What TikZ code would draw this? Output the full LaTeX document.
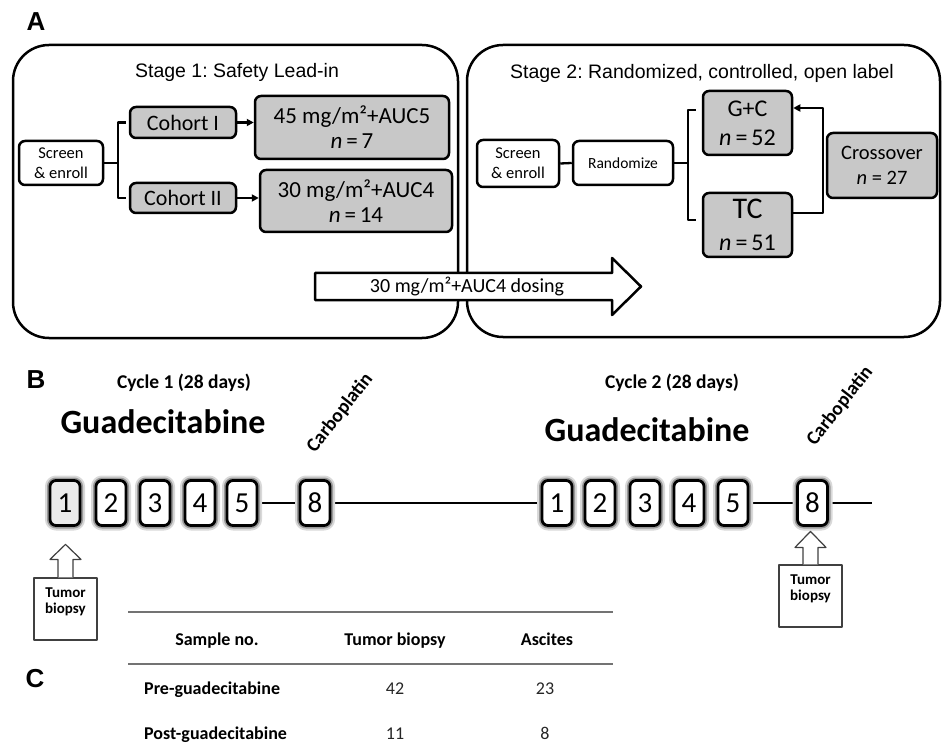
\documentclass[tikz,border=0pt]{standalone}
\usepackage{fontspec}
\setmainfont{Carlito}[Numbers=Lining]
\newfontfamily\arialfont{Liberation Sans}
\frenchspacing
\usetikzlibrary{arrows.meta}
\definecolor{boxgray}{HTML}{C8C8C8}
\newcommand{\fsz}[2]{\fontsize{#1}{#2}\selectfont}
\begin{document}
\begin{tikzpicture}[x=1pt, y=-1pt, line join=round]
    \tikzstyle{stagebox}=[draw, line width=2.5pt, rounded corners=36pt, inner sep=0pt]
    \tikzstyle{wbox}=[draw, line width=2.5pt, rounded corners=6pt, fill=white, inner sep=0pt, align=center]
    \tikzstyle{gbox}=[wbox, fill=boxgray]
    \tikzstyle{daybox}=[draw, line width=2.8pt, rounded corners=6pt, fill=white, minimum width=30pt, minimum height=45pt, inner sep=0pt, text height=18pt, text depth=0pt, font=\fsz{29pt}{30pt}, preaction={draw=black!15, line width=10pt}, preaction={draw=black!40, line width=6pt}]
    \tikzstyle{link}=[line width=2.3pt]
    \tikzstyle{tipped}=[link, -{Triangle[length=7pt, width=7pt]}]
    \tikzstyle{daylink}=[line width=2pt]
    \tikzstyle{biopsy}=[draw=black!75, line width=1.2pt, fill=white, minimum width=63pt, minimum height=62pt, inner sep=0pt, align=center, font=\bfseries\fsz{15pt}{16pt}]
    \tikzstyle{biopsyline}=[draw=black!75, line width=1.2pt, fill=white]
    \tikzstyle{rule}=[draw=black!55, line width=2pt]
    \tikzstyle{tabhead}=[inner sep=0pt, anchor=base, font=\bfseries\fsz{18pt}{20pt}]
    \tikzstyle{tabval}=[inner sep=0pt, anchor=base, text=black!85, font=\fsz{18pt}{20pt}]
    \tikzstyle{panel}=[font=\arialfont\bfseries\fsz{26pt}{30pt}]
    \useasboundingbox (0,0) rectangle (942,751);

    % panel A
    \node[panel] (labelA) at (36,22) {A};
    \node[stagebox, minimum width=445pt, minimum height=293pt] (stage1) at (235.5,191.5) {};
    \node[stagebox, minimum width=473pt, minimum height=292pt] (stage2) at (703.5,191) {};
    \node[font=\arialfont\fsz{19.5pt}{22pt}] (title1) at (237,72) {Stage 1: Safety Lead-in};
    \node[font=\arialfont\fsz{19.5pt}{22pt}] (title2) at (702,73) {Stage 2: Randomized, controlled, open label};

    \node[wbox, minimum width=84pt, minimum height=44pt, font=\fsz{16.5pt}{20pt}] (screen1) at (61,163) {Screen\\\& enroll};
    \node[gbox, minimum width=106pt, minimum height=31pt, font=\fsz{22pt}{24pt}] (cohort1) at (183,122.5) {Cohort I};
    \node[gbox, minimum width=106pt, minimum height=30pt, font=\fsz{22pt}{24pt}] (cohort2) at (183,198) {Cohort II};
    \node[gbox, minimum width=194pt, minimum height=63pt, font=\fsz{23pt}{25pt}] (dose1) at (352,127.5) {45 mg/m²+AUC5\\\textit{n}\,=\,7};
    \node[gbox, minimum width=192pt, minimum height=62pt, font=\fsz{23pt}{25pt}] (dose2) at (356,201) {30 mg/m²+AUC4\\\textit{n}\,=\,14};
    \draw[link] (screen1.east) -- ++(14,0) coordinate (fork1);
    \draw[link] ([xshift=-3pt]cohort1.west) -| (fork1) |- ([xshift=-3pt]cohort2.west);
    \draw[tipped] (cohort1.east) -- (cohort1.east -| dose1.west);
    \draw[tipped] (cohort2.east) -- (cohort2.east -| dose2.west);

    \node[wbox, minimum width=82pt, minimum height=47pt, font=\fsz{16.5pt}{20pt}] (screen2) at (518,163.5) {Screen\\\& enroll};
    \node[wbox, minimum width=100pt, minimum height=44pt, font=\fsz{15.5pt}{18pt}] (random) at (623,163) {Randomize};
    \node[gbox, minimum width=89pt, minimum height=64pt, font=\fsz{24pt}{29pt}] (gc) at (747.5,123) {G+C\\\textit{n}\,=\,52};
    \node[gbox, minimum width=89pt, minimum height=64pt, font=\fsz{24pt}{32pt}] (tc) at (747.5,225) {{\fsz{30pt}{32pt}TC}\\\textit{n}\,=\,51};
    \node[gbox, minimum width=110pt, minimum height=65pt, font=\fsz{20.5pt}{25pt}] (cross) at (882,165.5) {Crossover\\\textit{n} = 27};
    \draw[link] (screen2.east) -- (random.west);
    \draw[link] (random.east) -- ++(14,0) coordinate (fork2);
    \draw[link] ([shift={(-6pt,13pt)}]gc.west) -| (fork2) |- ([shift={(-6pt,5pt)}]tc.west);
    \draw[tipped] ([yshift=12pt]tc.east) -- ++(30,0) |- ([yshift=15pt]gc.east);

    % dosing arrow across both stages
    \draw[line width=2.5pt, fill=white] (315,273) -- (612,273) -- (612,258) -- (641,286.5) -- (612,315) -- (612,300) -- (315,300) -- cycle;
    \node[font=\fsz{20pt}{22pt}] (dosing) at (467,286.5) {30 mg/m²+AUC4 dosing};

    % panel B
    \node[panel] (labelB) at (36,380) {B};
    \node[font=\bfseries\fsz{19.5pt}{22pt}] (cycle1) at (184,383) {Cycle 1 (28 days)};
    \node[font=\bfseries\fsz{19.5pt}{22pt}] (cycle2) at (672,383) {Cycle 2 (28 days)};
    \node[font=\bfseries\fsz{34pt}{36pt}] (drug1) at (163,422) {Guadecitabine};
    \node[font=\bfseries\fsz{34pt}{36pt}] (drug2) at (647,430) {Guadecitabine};
    \node[font=\bfseries\fsz{19.5pt}{22pt}, rotate=52] (carbo1) at (340,413) {Carboplatin};
    \node[font=\bfseries\fsz{19.5pt}{22pt}, rotate=52] (carbo2) at (840,406) {Carboplatin};

    \coordinate (lineend) at (872,503);
    \draw[daylink] (242,503) -- (315,503) -- (557,503);
    \draw[daylink] (733,503) -- (lineend);
    \node[daybox, fill=black!8] (a1) at (65,503) {1};
    \foreach \d/\x in {2/111,3/155,4/200,5/242,8/315}
      \node[daybox] (a\d) at (\x,503) {\d};
    \foreach \d/\x in {1/557,2/600,3/645,4/689,5/733,8/812.5}
      \node[daybox] (b\d) at (\x,503) {\d};

    \node[biopsy] (biopsy1) at (65.5,609) {Tumor\\biopsy\\~};
    \draw[biopsyline] ([xshift=-7.5pt]biopsy1.north) -- ++(0,-18) -- ++(-8,0) -- ++(15.5,-15) -- ++(15.5,15) -- ++(-8,0) -- ++(0,18);
    \node[biopsy] (biopsy2) at (810.5,596) {Tumor\\biopsy\\~};
    \draw[biopsyline] ([xshift=-7.5pt]biopsy2.north) -- ++(0,-17) -- ++(-8,0) -- ++(15.5,-16) -- ++(15.5,16) -- ++(-8,0) -- ++(0,17);

    % panel C
    \node[panel] (labelC) at (35,679) {C};
    \coordinate (ruleAL) at (128,612); \coordinate (ruleAR) at (613,612);
    \coordinate (ruleBL) at (128,664); \coordinate (ruleBR) at (613,664);
    \draw[rule] (ruleAL) -- (ruleAR);
    \draw[rule] (ruleBL) -- (ruleBR);
    \node[tabhead] (hsample) at (217,645) {Sample no.};
    \node[tabhead] (htumor) at (395,645) {Tumor biopsy};
    \node[tabhead] (hascites) at (547,645) {Ascites};
    \node[tabhead, anchor=base west] (pre) at (144,694) {Pre-guadecitabine};
    \node[tabhead, anchor=base west] (post) at (144,739) {Post-guadecitabine};
    \node[tabval] (pretumor) at (395,694) {42};
    \node[tabval] (preascites) at (545,694) {23};
    \node[tabval] (posttumor) at (395,739) {11};
    \node[tabval] (postascites) at (545,739) {8};
\end{tikzpicture}
\end{document}
